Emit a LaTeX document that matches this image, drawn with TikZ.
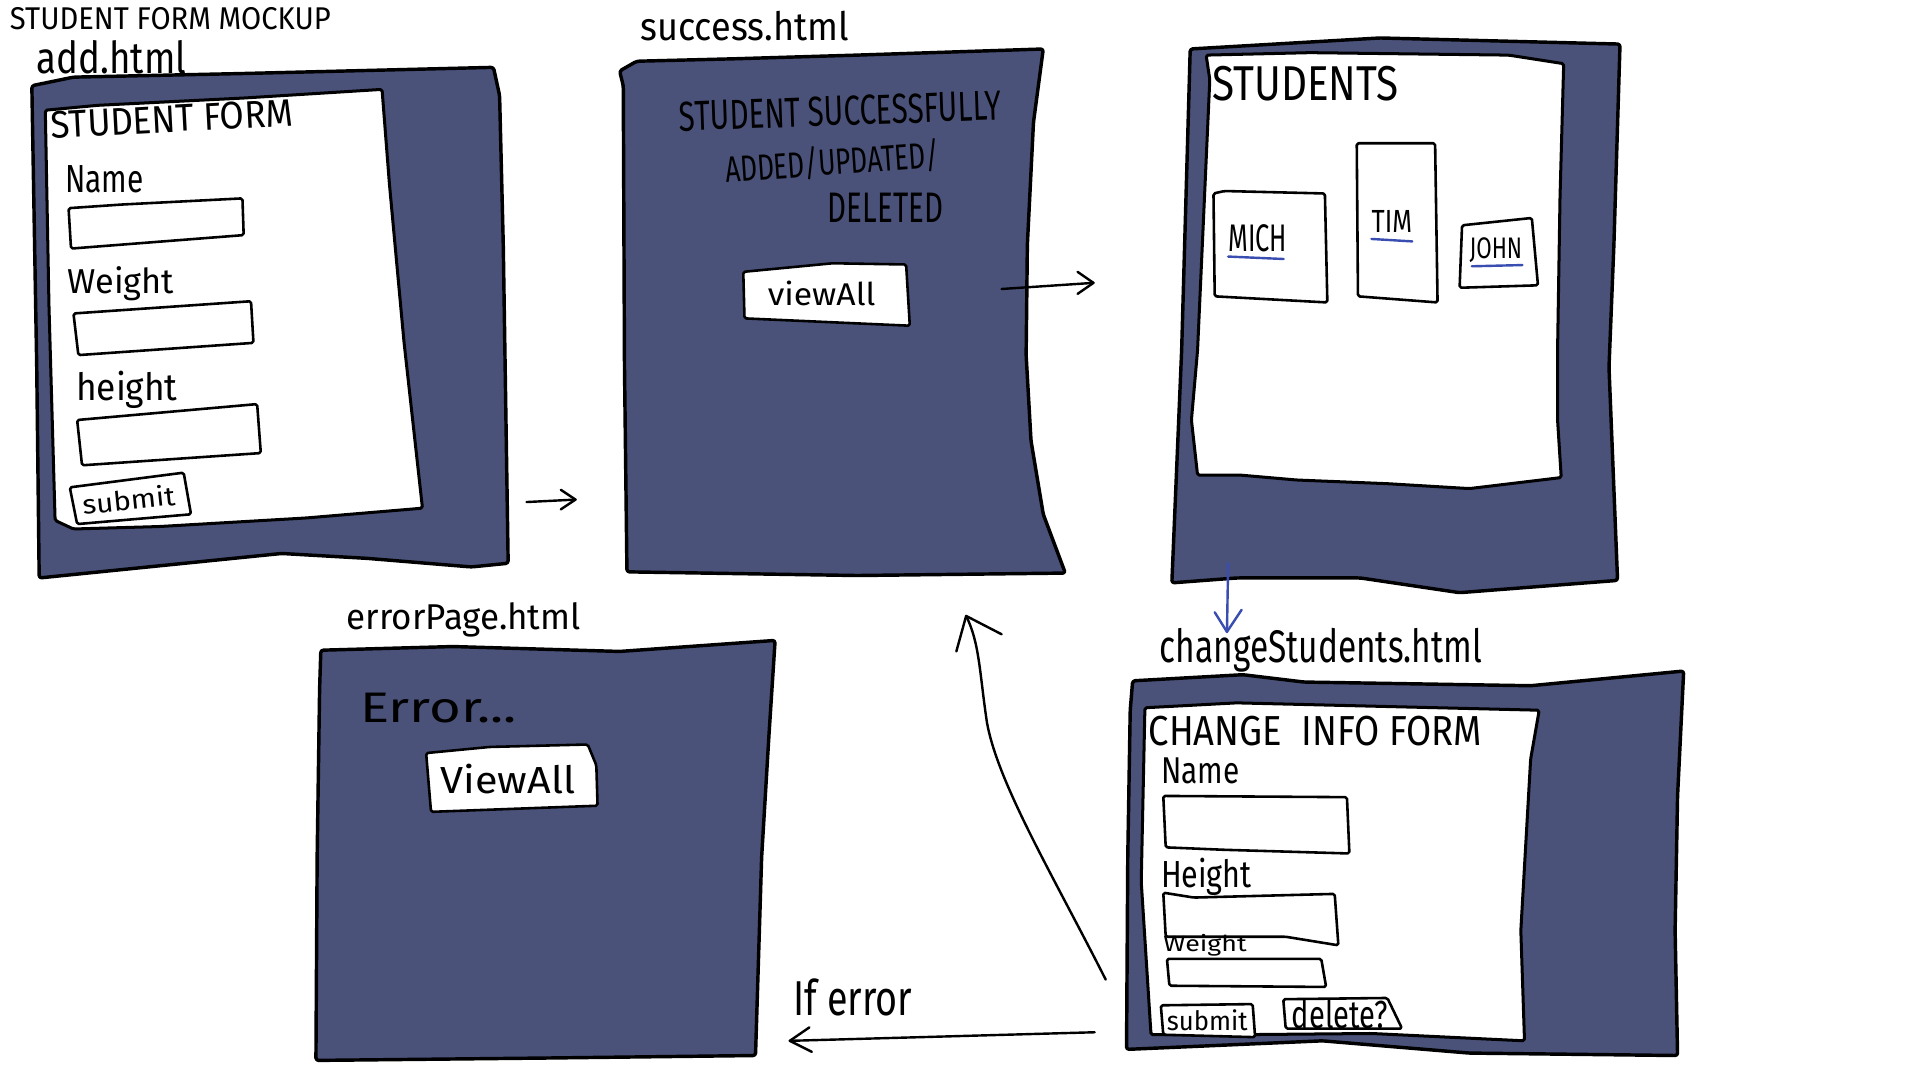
\documentclass[tikz,border=0pt]{standalone}
\usepackage{fontspec}
\setmainfont{Fira Sans}
\usepackage{graphicx}
\usetikzlibrary{calc}
\newlength\pxu
\setlength\pxu{0.05cm}
% hand lettering squeezed into a given width and height
\newcommand\hw[3]{\resizebox{#1\pxu}{#2\pxu}{#3}}
\definecolor{slate}{RGB}{74,82,121}
\definecolor{penblue}{RGB}{58,78,178}
\begin{document}
\begin{tikzpicture}[x=0.05cm,y=-0.05cm,line join=round,line cap=round,
  frame/.style={draw=black,fill=slate,line width=4pt,rounded corners=3pt},
  sheet/.style={draw=black,fill=white,line width=3.5pt,rounded corners=2pt},
  field/.style={draw=black,fill=white,line width=3pt,rounded corners=2pt},
  ink/.style={draw=black,line width=2.8pt},
  blueink/.style={draw=penblue,line width=2.8pt},
  lbl/.style={inner sep=0pt,anchor=base west},
  clbl/.style={inner sep=0pt,anchor=center}]
\fill[white] (0,0) rectangle (1568,882);
\useasboundingbox (0,0) rectangle (1568,882);

% ---------- titles ----------
\node[lbl] (title) at (8,24) {\hw{262}{18}{STUDENT FORM MOCKUP}};
\node[lbl] (addname) at (30,60) {\hw{122}{27}{add.html}};

% ---------- add.html ----------
\path[frame] (26,70) -- (60,63) -- (200,60) -- (403,55) -- (408,78) -- (411,200)
  -- (415,460) -- (385,463) -- (300,456) -- (230,452) -- (32,472) -- (30,300) -- cycle;
\path[sheet] (37,90) -- (80,86) -- (200,80) -- (312,73) -- (318,150) -- (330,280)
  -- (345,415) -- (250,423) -- (130,430) -- (60,432) -- (45,425) -- (40,250) -- cycle;
\node[lbl,rotate=3] (addhead) at (42,113) {\hw{198}{22}{STUDENT FORM}};
\node[lbl] (addnamelbl) at (53,157) {\hw{64}{22}{Name}};
\path[field] (56,170) -- (100,167) -- (198,162) -- (199,192) -- (58,203) -- cycle;
\node[lbl] (addweightlbl) at (55,240) {\hw{87}{22}{Weight}};
\path[field] (60,256) -- (205,246) -- (207,280) -- (64,290) -- cycle;
\node[lbl] (addheightlbl) at (62,327) {\hw{83}{24}{height}};
\path[field] (63,343) -- (210,330) -- (213,370) -- (67,380) -- cycle;
\path[field] (57,398) -- (150,386) -- (156,420) -- (63,428) -- cycle;
\node[clbl,rotate=6] (addsubmit) at (105,408) {\hw{76}{17}{submit}};

% ---------- success.html ----------
\node[lbl] (succname) at (523,33) {\hw{170}{24}{success.html}};
\path[frame] (506,58) -- (520,50) -- (600,48) -- (700,45) -- (852,40) -- (844,100)
  -- (839,200) -- (838,290) -- (842,360) -- (852,420) -- (870,468) -- (700,470) -- (512,467)
  -- (510,300) -- (509,70) -- cycle;
\node[lbl,rotate=2] (succl1) at (555,107) {\hw{263}{24}{STUDENT SUCCESSFULLY}};
\node[lbl,rotate=4] (succl2) at (593,149) {\hw{175}{24}{ADDED/UPDATED/}};
\node[lbl] (succl3) at (676,182) {\hw{94}{24}{DELETED}};
\path[field] (607,222) -- (680,215) -- (740,216) -- (743,266) -- (608,260) -- cycle;
\node[clbl] (succview) at (671,240) {\hw{88}{20}{viewAll}};

% ---------- students list ----------
\path[frame] (972,40) -- (1127,31) -- (1323,36) -- (1318,200) -- (1314,300)
  -- (1321,474) -- (1192,484) -- (1111,472) -- (1010,472) -- (957,476) -- (965,286) -- cycle;
\path[sheet] (985,45) -- (1070,43) -- (1232,45) -- (1277,52) -- (1274,161)
  -- (1272,286) -- (1272,343) -- (1275,390) -- (1200,399) -- (1133,395)
  -- (1059,392) -- (1013,388) -- (978,388) -- (973,343) -- (978,286) -- (988,65) -- cycle;
\node[lbl] (studhead) at (990,82) {\hw{152}{28}{STUDENTS}};
\path[field] (991,158) -- (1000,156) -- (1082,158) -- (1084,247) -- (992,242) -- cycle;
\path[field] (1108,117) -- (1172,117) -- (1174,247) -- (1109,242) -- cycle;
\path[field] (1194,184) -- (1251,178) -- (1256,233) -- (1192,235) -- cycle;
\node[lbl] (mich) at (1003,205) {\hw{48}{22}{MICH}};
\node[lbl] (tim) at (1120,190) {\hw{33}{18}{TIM}};
\node[lbl] (john) at (1200,211) {\hw{43}{17}{JOHN}};
\draw[blueink] ($(mich.south west)+(0,4)$) -- ($(mich.south east)+(-3,6)$);
\draw[blueink] ($(tim.south west)+(0,5)$) -- ($(tim.south east)+(0,7)$);
\draw[blueink] ($(john.south west)+(2,3)$) -- ($(john.south east)+(0,2)$);

% ---------- changeStudents.html ----------
\node[lbl] (chname) at (947,541) {\hw{263}{28}{changeStudents.html}};
\path[frame] (925,556) -- (1015,551) -- (1065,557) -- (1250,560) -- (1375,548)
  -- (1370,650) -- (1368,760) -- (1370,862) -- (1200,860) -- (1080,850)
  -- (920,857) -- (921,700) -- (923,580) -- cycle;
\path[sheet] (935,578) -- (1010,574) -- (1257,580) -- (1250,620) -- (1242,760)
  -- (1245,850) -- (1120,844) -- (1010,845) -- (940,845) -- (932,720) -- cycle;
\node[lbl] (chhead) at (938,609) {\hw{272}{24}{CHANGE\ \ INFO FORM}};
\node[lbl] (chnamelbl) at (948,640) {\hw{64}{21}{Name}};
\path[field] (950,650) -- (1100,651) -- (1102,697) -- (1000,694) -- (952,692) -- cycle;
\node[lbl] (chheightlbl) at (948,725) {\hw{74}{24}{Height}};
\path[field] (950,729) -- (975,733) -- (1090,730) -- (1093,772) -- (1050,765) -- (952,765) -- cycle;
\node[lbl] (chweightlbl) at (950,777) {\hw{68}{14}{Weight}};
\path[field] (953,783) -- (1079,783) -- (1083,806) -- (955,805) -- cycle;
\path[field] (948,821) -- (1023,820) -- (1025,847) -- (950,845) -- cycle;
\node[clbl] (chsubmit) at (986,833) {\hw{66}{17}{submit}};
\path[field] (1048,816) -- (1133,815) -- (1145,840) -- (1050,840) -- cycle;
\node[clbl] (chdelete) at (1094,828) {\hw{78}{24}{delete?}};

% ---------- errorPage.html ----------
\node[lbl] (errname) at (283,514) {\hw{191}{22}{errorPage.html}};
\path[frame] (262,531) -- (370,528) -- (506,532) -- (633,523) -- (628,600)
  -- (622,700) -- (617,862) -- (450,864) -- (258,866) -- (259,700) -- (261,563) -- cycle;
\node[lbl] (errmsg) at (294,590) {\hw{128}{24}{Error...}};
\path[field] (348,615) -- (400,610) -- (480,608) -- (487,625) -- (488,658) -- (352,663) -- cycle;
\node[clbl] (errview) at (415,636) {\hw{110}{24}{ViewAll}};

% ---------- flow arrows ----------
\coordinate (addOut) at (430,410);
\coordinate (succIn) at (470,408);
\draw[ink] (addOut) -- (succIn);
\draw[ink] ($(succIn)+(-12,-8)$) -- (succIn) -- ($(succIn)+(-12,8)$);

\coordinate (succOut) at (818,236);
\coordinate (studIn) at (893,231);
\draw[ink] (succOut) -- (studIn);
\draw[ink] ($(studIn)+(-13,-9)$) -- (studIn) -- ($(studIn)+(-13,9)$);

\coordinate (studOut) at (1003,460);
\coordinate (chIn) at (1002,516);
\draw[blueink] (studOut) -- (chIn);
\draw[blueink] ($(chIn)+(-10,-16)$) -- (chIn) -- ($(chIn)+(12,-18)$);

\coordinate (chBack) at (903,800);
\coordinate (succBack) at (789,503);
\draw[ink] (chBack) .. controls (860,715) and (815,640) .. (806,590)
  .. controls (800,550) and (800,525) .. (succBack);
\draw[ink] (781,532) -- (succBack) -- (818,518);

\coordinate (chErr) at (894,843);
\coordinate (errIn) at (645,850);
\draw[ink] (chErr) -- (errIn);
\draw[ink] ($(errIn)+(16,-11)$) -- (errIn) -- ($(errIn)+(18,9)$);
\node[lbl] (iferror) at (648,829) {\hw{97}{30}{If error}};
\end{tikzpicture}
\end{document}
